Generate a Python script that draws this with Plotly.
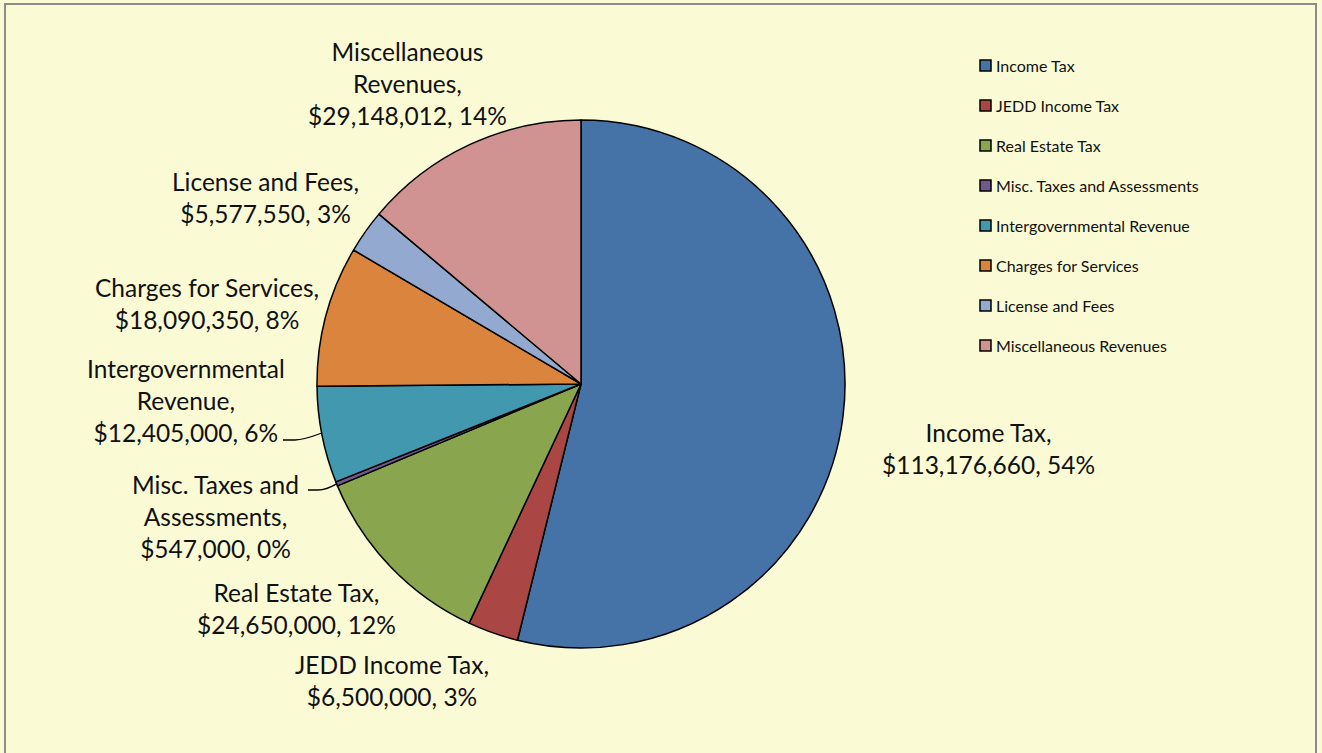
import math
import plotly.graph_objects as go

# Revenue sources (clockwise from 12 o'clock)
categories = [
    "Income Tax",
    "JEDD Income Tax",
    "Real Estate Tax",
    "Misc. Taxes and Assessments",
    "Intergovernmental Revenue",
    "Charges for Services",
    "License and Fees",
    "Miscellaneous Revenues",
]
amounts = [113176660, 6500000, 24650000, 547000, 12405000, 18090350, 5577550, 29148012]
pct_labels = ["54%", "3%", "12%", "0%", "6%", "8%", "3%", "14%"]
label_names = [
    "Income Tax,",
    "JEDD Income Tax,",
    "Real Estate Tax,",
    "Misc. Taxes and<br>Assessments,",
    "Intergovernmental<br>Revenue,",
    "Charges for Services,",
    "License and Fees,",
    "Miscellaneous<br>Revenues,",
]
colors = ["#4572A7", "#AA4643", "#89A54E", "#71588F",
          "#4198AF", "#DB843D", "#93A9CF", "#D19392"]

W, H = 1322, 753
BG = "#FAFAD5"
FONT = "Lato"


def px(x):
    return x / W


def py(y):
    return 1 - y / H


# pie geometry in pixels
CX, CY, R = 581, 384, 264

# label block centres (pixels)
label_pos = [(988, 448), (392, 680), (296, 608), (215, 516),
             (186, 400), (207, 303), (265, 197), (407, 83)]

fig = go.Figure()
fig.add_trace(go.Pie(
    labels=categories,
    values=amounts,
    sort=False,
    direction="clockwise",
    rotation=0,
    marker=dict(colors=colors, line=dict(color="#000000", width=1.5)),
    textinfo="none",
    hoverinfo="label+value+percent",
    showlegend=False,
    domain=dict(x=[px(CX - R), px(CX + R)], y=[py(CY + R), py(CY - R)]),
))

annotations = []
for name, amt, pct, (lx, ly) in zip(label_names, amounts, pct_labels, label_pos):
    annotations.append(dict(
        x=px(lx), y=py(ly), xref="paper", yref="paper",
        text=f"{name}<br>${amt:,}, {pct}",
        showarrow=False, xanchor="center", yanchor="middle", align="center",
        font=dict(family=FONT, size=24.5, color="#111111"),
    ))

# leader lines for the two thin slices on the left
total = sum(amounts)
shapes = []


def edge_point(idx):
    start = sum(amounts[:idx]) / total
    mid = start + amounts[idx] / total / 2
    ang = 2 * math.pi * mid
    return CX + R * math.sin(ang), CY - R * math.cos(ang)


for idx, (x0, x1, yl) in {4: (283, 295, 440), 3: (308, 318, 490)}.items():
    ex, ey = edge_point(idx)
    if idx == 4:
        ex, ey = 322, 433
    path = (f"M {px(x0)},{py(yl)} L {px(x1)},{py(yl)} "
            f"Q {px(x1 + 8)},{py(yl)} {px(ex)},{py(ey)}")
    shapes.append(dict(type="path", xref="paper", yref="paper", path=path,
                       line=dict(color="#000000", width=1.3)))

# legend
for i, (cat, col) in enumerate(zip(categories, colors)):
    ly = 65.5 + 40 * i
    shapes.append(dict(
        type="rect", xref="paper", yref="paper",
        x0=px(980), x1=px(991), y0=py(ly + 5.5), y1=py(ly - 5.5),
        fillcolor=col, line=dict(color="#000000", width=1.5),
    ))
    annotations.append(dict(
        x=px(994), y=py(ly), xref="paper", yref="paper", text=cat,
        showarrow=False, xanchor="left", yanchor="middle",
        font=dict(family=FONT, size=16, color="#111111"),
    ))

# outer frame
shapes.append(dict(type="rect", xref="paper", yref="paper",
                   x0=px(5), x1=px(1316), y0=-0.02, y1=py(4),
                   line=dict(color="#8C8C8C", width=2)))

fig.update_layout(
    width=W, height=H,
    margin=dict(l=0, r=0, t=0, b=0),
    paper_bgcolor=BG, plot_bgcolor=BG,
    showlegend=False,
    annotations=annotations,
    shapes=shapes,
    font=dict(family=FONT),
)

fig.write_html("out.html")
